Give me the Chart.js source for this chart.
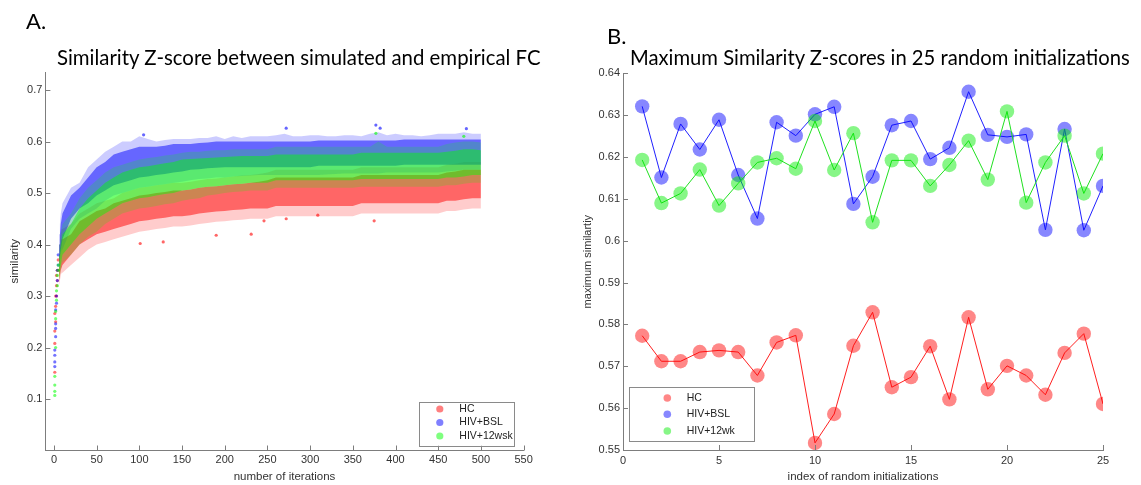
<!DOCTYPE html>
<html>
<head>
<meta charset="utf-8">
<script src="https://cdn.jsdelivr.net/npm/chart.js@4.4.1/dist/chart.umd.min.js"></script>
<style>
  html, body { margin:0; padding:0; background:#fff; }
  body { position:relative; width:1141px; height:485px; overflow:hidden; }
  .panel { position:absolute; top:0; height:485px; }
  #panelA { left:0; width:560px; }
  #panelB { left:560px; width:581px; }
  .tag, .ttl { position:absolute; font-family: Lato, "Open Sans", sans-serif; color:#000; white-space:nowrap; line-height:1; }
</style>
</head>
<body>
<div class="panel" id="panelA"><canvas id="chartA" width="560" height="485"></canvas></div>
<div class="panel" id="panelB"><canvas id="chartB" width="581" height="485"></canvas></div>
<div class="tag" style="left:26px;top:10px;font-size:22px">A.</div>
<div class="ttl" id="ttlA" style="left:57px;top:47px;font-size:20px">Similarity Z-score between simulated and empirical FC</div>
<div class="tag" style="left:607px;top:25px;font-size:22px">B.</div>
<div class="ttl" id="ttlB" style="left:630px;top:47px;font-size:20px">Maximum Similarity Z-scores in 25 random initializations</div>
<script>
// ---- Panel A: spread of the similarity over all runs, per iteration ----
// outer = full range of the runs, core = where most of the runs lie
const iterCols = [6,7,8,9,
  10,20,30,40,50,60,70,80,90,100,110,120,130,140,150,160,170,180,190,200,
  210,220,230,240,250,260,270,280,290,300,310,320,330,340,350,360,370,380,390,400,
  410,420,430,440,450,460,470,480,490,500];

const hcMin = [.32,.33,.34,.345,
  .345,.36,.375,.39,.40,.405,.41,.415,.42,.425,.427,.43,.432,.435,.435,.437,.44,.442,.444,.445,
  .447,.448,.45,.45,.45,.455,.455,.455,.455,.455,.455,.455,.455,.455,.455,.46,.46,.46,.46,.46,
  .46,.46,.46,.46,.46,.465,.465,.468,.47,.47];
const hcLow = [.33,.34,.35,.355,
  .36,.38,.40,.41,.42,.425,.43,.435,.44,.445,.447,.45,.452,.455,.455,.457,.46,.462,.464,.465,
  .467,.468,.47,.47,.47,.475,.475,.475,.475,.475,.475,.475,.475,.475,.475,.48,.48,.48,.48,.48,
  .48,.48,.48,.48,.48,.485,.485,.488,.49,.49];
const hcHigh = [.38,.39,.40,.41,
  .41,.42,.445,.455,.465,.47,.48,.485,.49,.495,.497,.50,.502,.505,.505,.507,.51,.512,.513,.515,
  .517,.518,.52,.522,.525,.53,.53,.53,.53,.53,.53,.53,.53,.53,.53,.535,.535,.535,.535,.535,
  .535,.535,.535,.535,.535,.54,.542,.545,.545,.545];
const hcMax = [.40,.41,.42,.43,
  .43,.44,.46,.47,.48,.485,.49,.50,.505,.51,.512,.515,.517,.52,.52,.522,.525,.527,.528,.53,
  .532,.534,.535,.537,.54,.545,.545,.545,.545,.545,.545,.545,.545,.545,.545,.55,.55,.55,.55,.55,
  .55,.55,.55,.55,.55,.555,.557,.56,.56,.56];

const bslMin = [.35,.37,.38,.39,
  .39,.43,.45,.46,.47,.485,.495,.50,.505,.51,.512,.515,.517,.52,.522,.525,.527,.528,.53,.53,
  .532,.533,.534,.535,.535,.535,.535,.535,.535,.535,.535,.536,.537,.538,.538,.538,.538,.538,.54,.54,
  .54,.54,.54,.54,.54,.542,.543,.545,.545,.545];
const bslLow = [.36,.38,.39,.40,
  .41,.45,.47,.48,.495,.505,.515,.52,.525,.53,.532,.535,.537,.54,.542,.545,.546,.548,.549,.55,
  .55,.55,.55,.55,.55,.55,.55,.55,.55,.55,.553,.553,.553,.553,.553,.553,.553,.553,.553,.553,
  .555,.555,.555,.555,.555,.555,.555,.555,.555,.555];
const bslHigh = [.40,.42,.44,.45,
  .46,.495,.51,.53,.55,.56,.575,.58,.585,.59,.59,.59,.592,.595,.595,.595,.597,.598,.60,.60,
  .60,.60,.60,.60,.60,.60,.60,.60,.60,.60,.602,.602,.602,.602,.602,.602,.602,.602,.602,.602,
  .604,.604,.604,.604,.604,.604,.604,.604,.604,.604];
const bslMax = [.42,.44,.46,.47,
  .48,.51,.52,.55,.565,.58,.59,.60,.60,.61,.605,.60,.603,.605,.605,.605,.607,.607,.61,.605,
  .61,.607,.61,.61,.61,.612,.615,.61,.61,.612,.612,.61,.61,.612,.612,.61,.615,.618,.612,.615,
  .612,.612,.61,.612,.615,.615,.615,.618,.615,.615];

const wkMin = [.33,.34,.35,.36,
  .365,.38,.40,.415,.425,.44,.45,.46,.465,.47,.472,.475,.478,.48,.485,.488,.49,.495,.497,.50,
  .502,.503,.505,.505,.505,.51,.51,.51,.51,.51,.51,.51,.51,.51,.51,.512,.512,.512,.512,.512,
  .512,.512,.512,.512,.512,.515,.515,.518,.52,.52];
const wkLow = [.34,.35,.36,.37,
  .38,.40,.42,.435,.45,.46,.47,.48,.485,.49,.492,.495,.498,.50,.505,.507,.51,.512,.513,.515,
  .517,.518,.52,.52,.52,.525,.525,.525,.525,.525,.525,.525,.525,.525,.525,.527,.527,.527,.527,.527,
  .527,.527,.527,.527,.527,.53,.53,.532,.535,.535];
const wkHigh = [.38,.39,.40,.41,
  .42,.44,.47,.49,.505,.52,.53,.54,.545,.55,.552,.555,.558,.56,.565,.566,.567,.568,.569,.57,
  .571,.572,.572,.572,.572,.575,.575,.575,.575,.575,.575,.575,.575,.575,.575,.578,.578,.578,.578,.578,
  .578,.578,.578,.578,.578,.58,.582,.585,.585,.583];
const wkMax = [.40,.41,.42,.43,
  .44,.46,.49,.51,.525,.54,.55,.555,.56,.565,.568,.57,.573,.575,.578,.58,.58,.582,.583,.583,
  .585,.585,.585,.585,.585,.59,.59,.59,.59,.59,.59,.59,.59,.59,.59,.59,.59,.60,.59,.59,
  .59,.59,.59,.59,.59,.595,.598,.60,.60,.598];

// first iterations: runs still spread out individually
const hcEarlyIter  = [1,1,1,1,2,2,2,3,3,3,4,4,5,5];
const hcEarlyVal   = [.152,.208,.232,.266,.25,.28,.30,.30,.32,.34,.33,.35,.35,.37];
const bslEarlyIter = [1,1,1,1,2,2,2,2,3,3,4,4,5,5];
const bslEarlyVal  = [.163,.172,.185,.195,.221,.237,.246,.273,.286,.30,.33,.35,.36,.38];
const wkEarlyIter  = [1,1,1,1,2,2,2,3,3,4,4,5,5];
const wkEarlyVal   = [.107,.115,.127,.144,.20,.256,.27,.292,.31,.32,.34,.35,.36];

// isolated runs lying well outside the bulk
const hcOutIter  = [101,128,190,231,246,272,309,375];
const hcOutVal   = [.402,.405,.418,.420,.446,.450,.457,.446];
const bslOutIter = [105,272,377,382,483];
const bslOutVal  = [.613,.626,.632,.626,.625];
const wkOutIter  = [377,480];
const wkOutVal   = [.616,.610];

const groupsA = ['HC', 'HIV+BSL', 'HIV+12wsk'];
const ticksAX = [0,50,100,150,200,250,300,350,400,450,500,550];
const ticksAY = [0.1,0.2,0.3,0.4,0.5,0.6,0.7];

// ---- Panel B: best similarity reached in each random initialization ----
const initIndex = [1,2,3,4,5,6,7,8,9,10,11,12,13,14,15,16,17,18,19,20,21,22,23,24,25];
const hcBest   = [0.5773,0.5712,0.5712,0.5734,0.5738,0.5734,0.5678,0.5757,0.5774,0.5517,0.5586,0.5749,0.5829,
                  0.5650,0.5674,0.5748,0.5621,0.5817,0.5645,0.5701,0.5678,0.5632,0.5732,0.5778,0.5610];
const bslBest  = [0.6321,0.6151,0.6279,0.6218,0.6289,0.6157,0.6053,0.6283,0.6251,0.6302,0.6320,0.6088,0.6153,
                  0.6276,0.6286,0.6195,0.6222,0.6356,0.6253,0.6248,0.6254,0.6026,0.6267,0.6025,0.6131];
const wk12Best = [0.6193,0.6090,0.6113,0.6170,0.6084,0.6137,0.6187,0.6197,0.6172,0.6286,0.6169,0.6257,0.6044,
                  0.6192,0.6192,0.6131,0.6181,0.6239,0.6146,0.6309,0.6091,0.6187,0.6251,0.6113,0.6208];
const groupsB = ['HC', 'HIV+BSL', 'HIV+12wk'];
const ticksBX = [0,5,10,15,20,25];
const ticksBY = [0.55,0.56,0.57,0.58,0.59,0.6,0.61,0.62,0.63,0.64];

// ---- shared styling ----
const TXT = '#333333';
const AXIS = '#7d7d7d';
const SANS = '"Liberation Sans", Arial, sans-serif';
const rgba = (rgb, a) => 'rgba(' + rgb + ',' + a + ')';
const RGB_R = '255,0,0', RGB_B = '0,0,255', RGB_G = '0,255,0', RGB_G_LINE = '0,235,0';

// MATLAB-style tick marks pointing into the plot
const inwardTicks = {
  id: 'inwardTicks',
  afterDatasetsDraw(chart, args, opts) {
    const {ctx, chartArea: a, scales: {x, y}} = chart;
    const len = opts.length;
    ctx.save();
    ctx.strokeStyle = opts.color;
    ctx.lineWidth = 1;
    ctx.beginPath();
    x.ticks.forEach(t => {
      const px = Math.round(x.getPixelForValue(t.value)) + 0.5;
      ctx.moveTo(px, a.bottom); ctx.lineTo(px, a.bottom - len);
    });
    y.ticks.forEach(t => {
      const py = Math.round(y.getPixelForValue(t.value)) + 0.5;
      ctx.moveTo(a.left, py); ctx.lineTo(a.left + len, py);
    });
    ctx.stroke();
    ctx.restore();
  }
};

// Boxed legend drawn inside the plot area
const boxLegend = {
  id: 'boxLegend',
  afterDraw(chart, args, o) {
    const {ctx, chartArea: a} = chart;
    const left = o.anchor === 'left' ? a.left + o.dx : a.right - o.dx - o.w;
    const top = a.bottom - o.dy - o.h;
    ctx.save();
    ctx.fillStyle = '#fff';
    ctx.fillRect(left, top, o.w, o.h);
    ctx.strokeStyle = '#8a8a8a';
    ctx.lineWidth = 1;
    ctx.strokeRect(Math.round(left) + 0.5, Math.round(top) + 0.5, Math.round(o.w), Math.round(o.h));
    ctx.font = o.fontSize + 'px ' + SANS;
    ctx.textBaseline = 'middle';
    chart.data.datasets.filter(ds => ds.legendRank !== undefined)
      .sort((p, q) => p.legendRank - q.legendRank)
      .forEach((ds, i) => {
        const cy = top + o.rows[i];
        ctx.fillStyle = ds.legendColor;
        ctx.beginPath();
        ctx.arc(left + o.markX, cy, o.r, 0, Math.PI * 2);
        ctx.fill();
        ctx.fillStyle = '#222';
        ctx.fillText(ds.label, left + o.textX, cy);
      });
    ctx.restore();
  }
};

function axisCommon(ticksArr) {
  return {
    type: 'linear',
    offset: false,
    grid: { display: false, drawTicks: false },
    border: { display: true, color: AXIS, width: 1 },
    ticks: { color: TXT, font: { family: SANS, size: 11 }, autoSkip: false, maxRotation: 0, callback: v => String(v) },
    afterBuildTicks: s => { s.ticks = ticksArr.map(v => ({ value: v })); }
  };
}

// ---- Chart A: shaded range + bulk band, plus single runs, per group ----
const series = (vals) => iterCols.map((it, i) => ({ x: it, y: vals[i] }));
const edge = (vals, order, fill, color) => ({
  data: series(vals), order, fill: fill ? '-1' : false,
  backgroundColor: color || 'transparent', borderColor: 'transparent', borderWidth: 0,
  pointRadius: 0, pointHoverRadius: 0, tension: 0
});
const dots = (its, vals, rgb, order, alpha) => ({
  data: its.map((it, i) => ({ x: it, y: vals[i] })), order, showLine: false,
  pointRadius: 1.6, pointBorderWidth: 0, pointBackgroundColor: rgba(rgb, alpha), pointHoverRadius: 1.6
});
function groupA(label, rank, rgb, order, coreAlpha, mn, lo, hi, mx, eIt, eV, oIt, oV) {
  const hiEdge = edge(hi, order, true, rgba(rgb, coreAlpha));
  hiEdge.label = label; hiEdge.legendRank = rank; hiEdge.legendColor = rgba(rgb, 0.5);
  return [
    edge(mn, order, false),
    edge(mx, order, true, rgba(rgb, 0.2)),
    edge(lo, order, false),
    hiEdge,
    dots(eIt, eV, rgb, order, 0.55),
    dots(oIt, oV, rgb, order, 0.6)
  ];
}
new Chart(document.getElementById('chartA'), {
  type: 'line',
  data: {
    datasets: [
      ...groupA(groupsA[0], 0, RGB_R, 30, 0.5, hcMin, hcLow, hcHigh, hcMax, hcEarlyIter, hcEarlyVal, hcOutIter, hcOutVal),
      ...groupA(groupsA[1], 1, RGB_B, 20, 0.5, bslMin, bslLow, bslHigh, bslMax, bslEarlyIter, bslEarlyVal, bslOutIter, bslOutVal),
      ...groupA(groupsA[2], 2, RGB_G, 10, 0.45, wkMin, wkLow, wkHigh, wkMax, wkEarlyIter, wkEarlyVal, wkOutIter, wkOutVal)
    ]
  },
  options: {
    responsive: false, animation: false,
    layout: { padding: { left: 0, right: 36.4, top: 72, bottom: 0 } },
    scales: {
      x: Object.assign(axisCommon(ticksAX), {
        min: -10, max: 550,
        title: { display: true, text: 'number of iterations', color: TXT, font: { family: SANS, size: 11.5 }, padding: { top: 0, bottom: 1.5 } },
        afterFit: s => { s.height = 34.5; s.paddingLeft = 0; s.paddingRight = 0; }
      }),
      y: Object.assign(axisCommon(ticksAY), {
        min: 0, max: 0.735,
        title: { display: true, text: 'similarity', color: TXT, font: { family: SANS, size: 11.5 }, padding: { top: 8.4, bottom: 0 } },
        afterFit: s => { s.width = 45.4; s.paddingTop = 0; s.paddingBottom = 0; }
      })
    },
    plugins: {
      legend: { display: false }, tooltip: { enabled: false },
      filler: { propagate: false },
      inwardTicks: { length: 5, color: AXIS },
      boxLegend: { anchor: 'right', dx: 9.3, dy: 5, w: 95, h: 44, rows: [7.5, 21, 34.5], markX: 20.5, textX: 40, r: 3.6, fontSize: 10.5 }
    }
  },
  plugins: [inwardTicks, boxLegend]
});

// ---- Chart B ----
const pts = vals => initIndex.map((n, i) => ({ x: n, y: vals[i] }));
const lineSet = (label, vals, line, fill, rank, order) => ({
  label, data: pts(vals), borderColor: line, borderWidth: 1, tension: 0, fill: false,
  pointRadius: 7.2, pointBackgroundColor: fill, pointBorderWidth: 0, pointHoverRadius: 7.2,
  legendColor: fill, legendRank: rank, order
});
new Chart(document.getElementById('chartB'), {
  type: 'line',
  data: {
    datasets: [
      lineSet(groupsB[0], hcBest, '#ff2020', rgba(RGB_R, 0.47), 0, 3),
      lineSet(groupsB[1], bslBest, '#2020ff', rgba(RGB_B, 0.47), 1, 2),
      lineSet(groupsB[2], wk12Best, '#20e020', rgba(RGB_G_LINE, 0.47), 2, 1)
    ]
  },
  options: {
    responsive: false, animation: false,
    layout: { padding: { left: 0, right: 38, top: 73.3, bottom: 0 } },
    scales: {
      x: Object.assign(axisCommon(ticksBX), {
        min: 0, max: 25,
        ticks: { color: TXT, font: { family: SANS, size: 11 }, autoSkip: false, maxRotation: 0, padding: 4 },
        title: { display: true, text: 'index of random initializations', color: TXT, font: { family: SANS, size: 11.5 }, padding: { top: 0, bottom: 1.7 } },
        afterFit: s => { s.height = 35; s.paddingLeft = 0; s.paddingRight = 0; }
      }),
      y: Object.assign(axisCommon(ticksBY), {
        min: 0.55, max: 0.64,
        title: { display: true, text: 'maximum similartiy', color: TXT, font: { family: SANS, size: 11 }, padding: { top: 21.4, bottom: 0 } },
        afterFit: s => { s.width = 63; s.paddingTop = 0; s.paddingBottom = 0; }
      })
    },
    plugins: {
      legend: { display: false }, tooltip: { enabled: false },
      inwardTicks: { length: 5, color: AXIS },
      boxLegend: { anchor: 'left', dx: 6, dy: 9, w: 125, h: 54, rows: [11, 27.3, 44], markX: 38.3, textX: 57.7, r: 3.8, fontSize: 10.5 }
    }
  },
  plugins: [inwardTicks, boxLegend]
});

// Fit the panel titles to their measured line widths
function fitWidth(id, target) {
  const el = document.getElementById(id);
  const w = el.getBoundingClientRect().width;
  const fs = parseFloat(getComputedStyle(el).fontSize);
  el.style.fontSize = (fs * target / w).toFixed(2) + 'px';
}
fitWidth('ttlA', 484);
fitWidth('ttlB', 500);
</script>
</body>
</html>
